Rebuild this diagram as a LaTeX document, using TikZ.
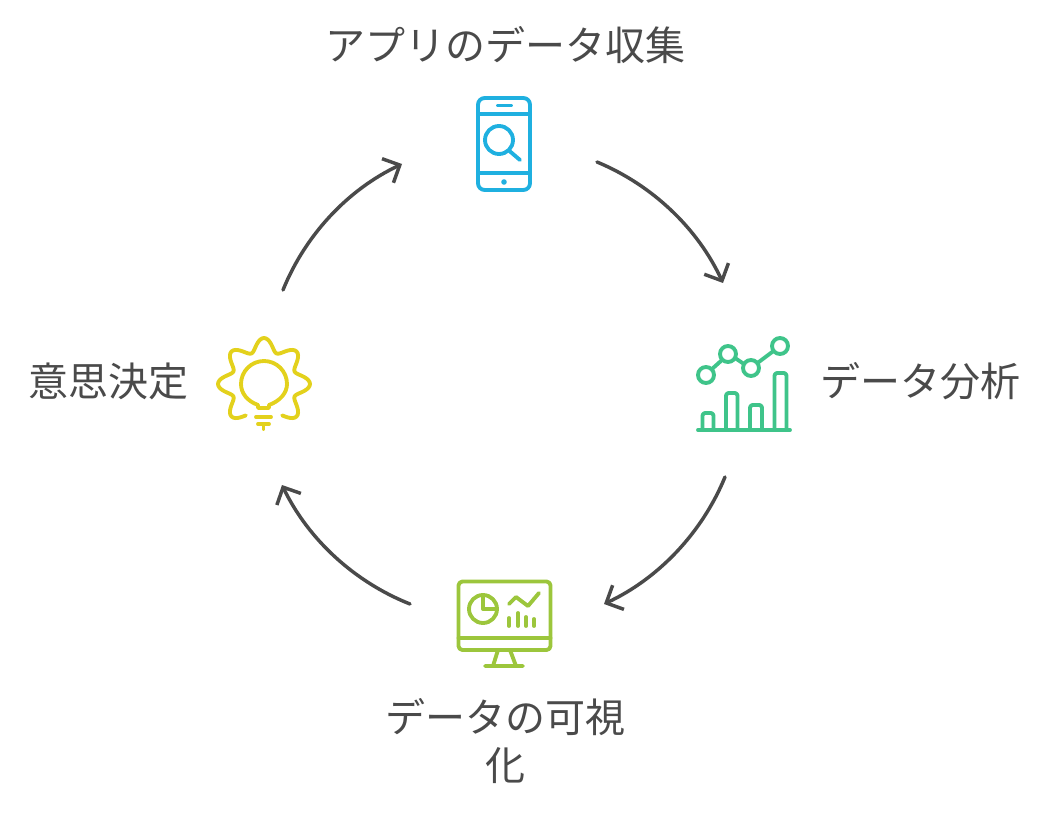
\documentclass[tikz,border=0pt]{standalone}
\usepackage{fontspec}
\usetikzlibrary{arrows.meta}
\newfontfamily\jpfont{Noto Sans CJK JP}
\definecolor{ink}{HTML}{4A4A4A}
\definecolor{cblue}{HTML}{1FB0E0}
\definecolor{cgreen}{HTML}{3FC48A}
\definecolor{clime}{HTML}{9CC63C}
\definecolor{cyel}{HTML}{E3D11C}
\tikzset{
  label text/.style={font=\jpfont\fontsize{30pt}{36pt}\selectfont,text=ink,inner sep=0pt,align=center},
  flow/.style={draw=ink,line width=2.6pt,line cap=round,-{Straight Barb[length=10pt,width=20pt,line width=2.6pt]}},
  icon/.style={line width=2.9pt,line cap=round,line join=round}
}
\begin{document}
\begin{tikzpicture}[x=0.75pt,y=-0.75pt]
\useasboundingbox (0,0) rectangle (1056,816);
\node[label text] (t1) at (505,45) {アプリのデータ収集};
\node[label text] (t2) at (920,381) {データ分析};
\node[label text] (t3) at (505,741) {データの可視\\化};
\node[label text] (t4) at (108,381) {意思決定};
% phone
\begin{scope}[icon,draw=cblue]
\draw[rounded corners=5pt] (478,98) rectangle (530,190);
\draw (478,114) -- (530,114) (478,173) -- (530,173) (498,105.5) -- (511,105.5);
\fill[cblue] (504,182) circle[radius=2.8];
\draw (499,140) circle[radius=14];
\draw (509.5,151) -- (520,160);
\end{scope}
% chart
\begin{scope}[icon,draw=cgreen]
\draw (698,430) -- (790,430);
\draw[rounded corners=2pt] (702.5,430) -- (702.5,413) -- (713.5,413) -- (713.5,430);
\draw[rounded corners=2pt] (726,430) -- (726,393) -- (737.5,393) -- (737.5,430);
\draw[rounded corners=2pt] (750,430) -- (750,405) -- (762,405) -- (762,430);
\draw[rounded corners=2pt] (774.5,430) -- (774.5,373) -- (786.5,373) -- (786.5,430);
\draw (706,375) circle[radius=8] (728,354) circle[radius=8] (751,368) circle[radius=8] (780,346) circle[radius=8];
\draw (712,369) -- (722,360) (735,358) -- (744,364) (757.5,363) -- (773.5,351);
\end{scope}
% monitor
\begin{scope}[icon,draw=clime]
\draw[rounded corners=3pt] (458.5,581.5) rectangle (550.5,650);
\draw (458.5,638) -- (550.5,638);
\draw (498,650) -- (493,666) (510,650) -- (516,666) (485,666) -- (523,666);
\draw (483,609) circle[radius=14];
\draw (483,595) -- (483,609) -- (497,609);
\draw (509,604) -- (516,597) -- (528,606) -- (539,593);
\draw (509,618) -- (509,626) (518,613) -- (518,626) (526,617) -- (526,626) (534,619) -- (534,626);
\end{scope}
% bulb
\begin{scope}[icon,draw=cyel]
\draw plot[smooth,domain=-60:240,samples=121] ({264+(39.5+6.5*cos(8*\x))*cos(\x)},{384-(39.5+6.5*cos(8*\x))*sin(\x)});
\draw (258,408) -- (258,405) .. controls (247,401) and (241,393) .. (241,384) arc[start angle=180,end angle=360,radius=23] .. controls (287,393) and (280,401) .. (269,405) -- (269,408) -- cycle;
\draw (256,417) -- (271,417) (258,424) -- (269,424) (263.5,424) -- (263.5,429);
\end{scope}
% connectors
\coordinate (a1s) at (597,162); \coordinate (a1e) at (723,283);
\coordinate (a2s) at (725,477); \coordinate (a2e) at (604,604);
\coordinate (a3s) at (410,604); \coordinate (a3e) at (282,485);
\coordinate (a4s) at (283,290); \coordinate (a4e) at (402,164);
\draw[flow] (a1s) to[bend left=21.3,looseness=0.88] (a1e);
\draw[flow] (a2s) to[bend left=21.3,looseness=0.88] (a2e);
\draw[flow] (a3s) to[bend left=21.3,looseness=0.88] (a3e);
\draw[flow] (a4s) to[bend left=21.3,looseness=0.88] (a4e);
\end{tikzpicture}
\end{document}
